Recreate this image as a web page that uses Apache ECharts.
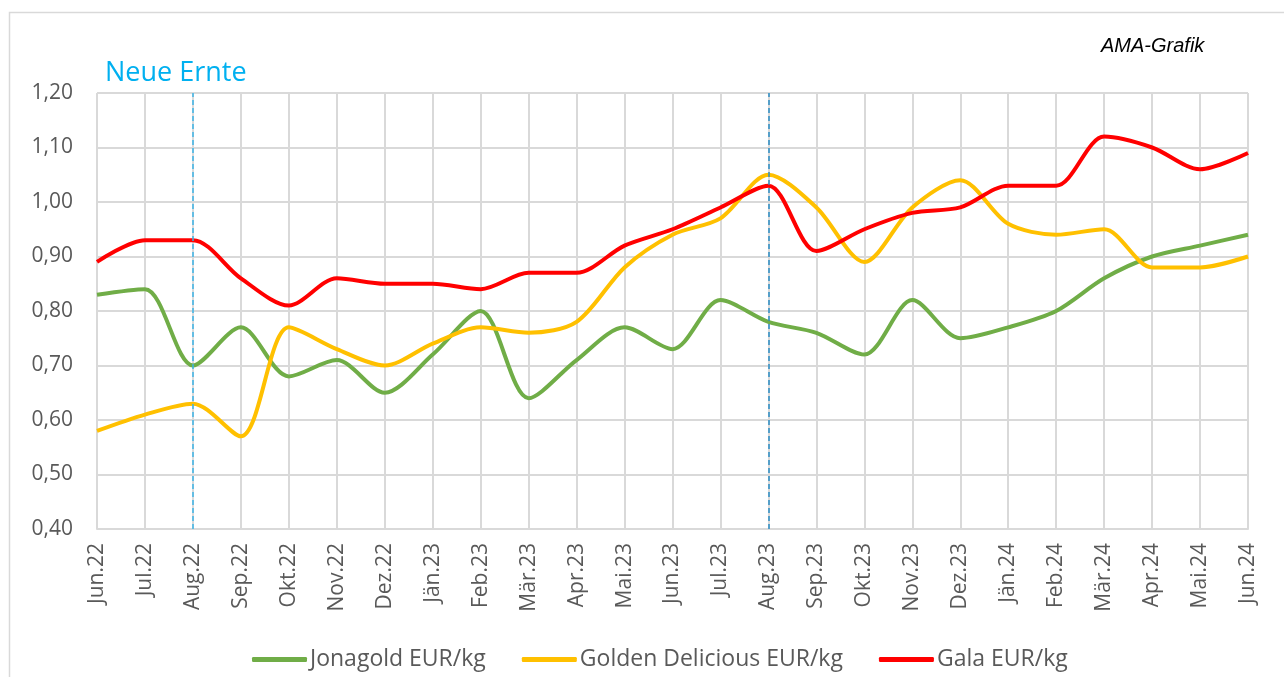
<!DOCTYPE html>
<html>
<head>
<meta charset="utf-8">
<script src="https://cdn.jsdelivr.net/npm/echarts@6/dist/echarts.min.js"></script>
<style>
html, body { margin: 0; padding: 0; background: #fff; }
#chart { width: 1284px; height: 677px; }
</style>
</head>
<body>
<div id="chart"></div>
<script>
var monate = ['Jun.22','Jul.22','Aug.22','Sep.22','Okt.22','Nov.22','Dez.22','Jän.23','Feb.23','Mär.23','Apr.23','Mai.23','Jun.23','Jul.23','Aug.23','Sep.23','Okt.23','Nov.23','Dez.23','Jän.24','Feb.24','Mär.24','Apr.24','Mai.24','Jun.24'];
var jonagold = [0.83,0.84,0.70,0.77,0.68,0.71,0.65,0.72,0.80,0.64,0.71,0.77,0.73,0.82,0.78,0.76,0.72,0.82,0.75,0.77,0.80,0.86,0.90,0.92,0.94];
var golden = [0.58,0.61,0.63,0.57,0.77,0.73,0.70,0.74,0.77,0.76,0.78,0.88,0.94,0.97,1.05,0.99,0.89,0.99,1.04,0.96,0.94,0.95,0.88,0.88,0.90];
var gala = [0.89,0.93,0.93,0.86,0.81,0.86,0.85,0.85,0.84,0.87,0.87,0.92,0.95,0.99,1.03,0.91,0.95,0.98,0.99,1.03,1.03,1.12,1.10,1.06,1.09];
var ernteMonate = ['Aug.22','Aug.23'];

var schrift = '"Open Sans", "Noto Sans", sans-serif';
var myChart = echarts.init(document.getElementById('chart'));

function linie(name, daten, farbe) {
    return {
        name: name,
        type: 'line',
        data: daten,
        smooth: 0.3,
        symbol: 'none',
        lineStyle: { color: farbe, width: 4 },
        itemStyle: { color: farbe }
    };
}

var serien = [
    linie('Jonagold EUR/kg', jonagold, '#70AD47'),
    linie('Golden Delicious EUR/kg', golden, '#FFC000'),
    linie('Gala EUR/kg', gala, '#FF0000')
];
// Ernte-Linien (gestrichelt)
serien[0].markLine = {
    silent: true,
    symbol: 'none',
    label: { show: false },
    data: [
        { xAxis: ernteMonate[0], lineStyle: { color: '#3CB4E6', type: [5, 3], width: 1.5 } },
        { xAxis: ernteMonate[1], lineStyle: { color: '#2A8CC4', type: [5, 3], width: 1.5 } }
    ]
};

var option = {
    animation: false,
    textStyle: { fontFamily: schrift },
    grid: { left: 97, right: 36, top: 93, bottom: 148 },
    legend: {
        top: 643,
        left: 247,
        itemWidth: 55,
        itemHeight: 5,
        itemGap: 36,
        icon: 'roundRect',
        textStyle: { fontFamily: schrift, fontSize: 23, color: '#595959', padding: [0, 0, 0, -2] },
        data: ['Jonagold EUR/kg', 'Golden Delicious EUR/kg', 'Gala EUR/kg']
    },
    xAxis: {
        type: 'category',
        data: monate,
        boundaryGap: false,
        axisLine: { lineStyle: { color: '#D9D9D9', width: 2 } },
        axisTick: { show: false },
        splitLine: { show: true, lineStyle: { color: '#D9D9D9', width: 2 } },
        axisLabel: { rotate: 90, fontSize: 21, color: '#595959', margin: 14, fontFamily: schrift }
    },
    yAxis: {
        type: 'value',
        min: 0.4,
        max: 1.2,
        interval: 0.1,
        axisLine: { show: false },
        axisTick: { show: false },
        splitLine: { lineStyle: { color: '#D9D9D9', width: 2 } },
        axisLabel: {
            fontSize: 21, color: '#595959', margin: 24, fontFamily: schrift,
            formatter: function (v) { return v.toFixed(2).replace('.', ','); }
        }
    },
    graphic: [
        { type: 'rect', shape: { x: 9.5, y: 12.5, width: 1290, height: 700 }, style: { fill: 'none', stroke: '#D9D9D9', lineWidth: 1.5 }, silent: true },
        { type: 'text', left: 105, top: 60, style: { text: 'Neue Ernte', fill: '#00B0F0', font: '27px ' + schrift } },
        { type: 'text', left: 1101, top: 36, style: { text: 'AMA-Grafik', fill: '#000', font: 'italic 20px "Liberation Sans", Arial, sans-serif' } }
    ],
    series: serien
};

myChart.setOption(option);
window.onresize = myChart.resize;
</script>
</body>
</html>
